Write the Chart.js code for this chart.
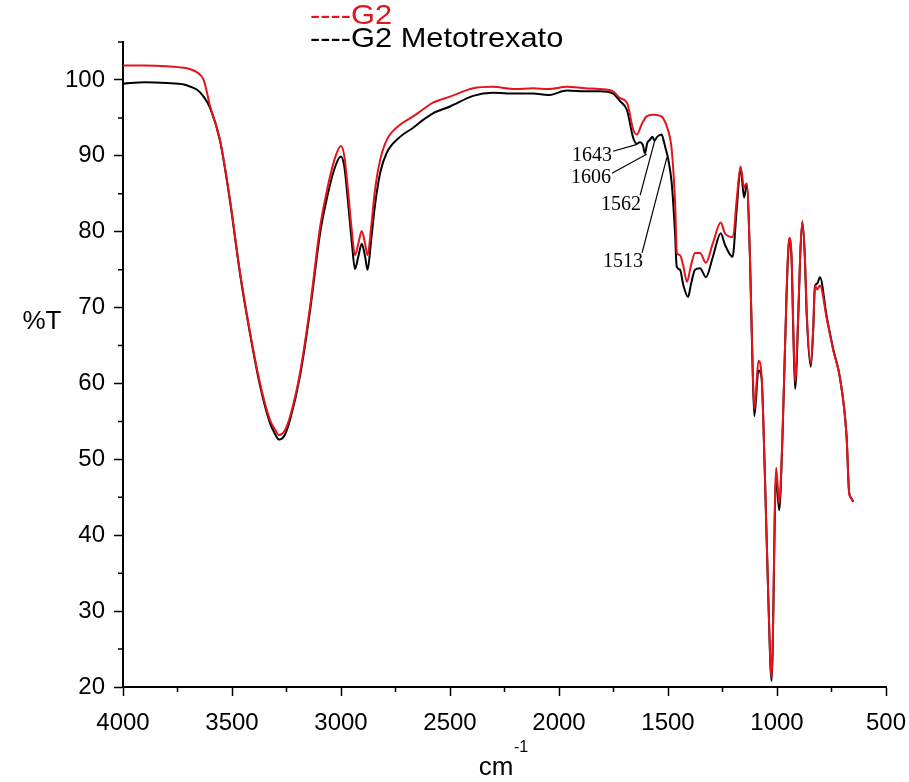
<!DOCTYPE html>
<html>
<head>
<meta charset="utf-8">
<script src="https://cdn.jsdelivr.net/npm/chart.js@4.4.1/dist/chart.umd.min.js"></script>
<style>
  html, body { margin: 0; padding: 0; background: #fff; }
  canvas { display: block; }
</style>
</head>
<body>
<canvas id="chart" width="909" height="782"></canvas>
<script>
// G2 spectrum (red)
var g2Wavenumber = [4000, 3900, 3800, 3720, 3690, 3660, 3630, 3600, 3555, 3509, 3463, 3417, 3372, 3326, 3300, 3284, 3260, 3234, 3188, 3142, 3096, 3064, 3030, 3001, 2985, 2968, 2950, 2936, 2920, 2905, 2890, 2878, 2862, 2844, 2820, 2790, 2729, 2669, 2620, 2578, 2500, 2394, 2303, 2200, 2119, 2050, 1963, 1880, 1812, 1752, 1720, 1688, 1660, 1643, 1620, 1598, 1569, 1540, 1523, 1500, 1483, 1468, 1459, 1445, 1430, 1413, 1395, 1376, 1353, 1326, 1294, 1258, 1239, 1202, 1185, 1167, 1151, 1139, 1124, 1112, 1104, 1085, 1071, 1056, 1040, 1025, 1004, 990, 975, 956, 944, 933, 925, 917, 902, 894, 884, 872, 864, 845, 834, 826, 815, 803, 772, 742, 711, 681, 669, 660, 650];
var g2Transmittance = [101.9, 101.9, 101.8, 101.6, 101.4, 101.0, 100.0, 96.5, 92.1, 84.2, 74.6, 66.7, 60.1, 55.2, 53.8, 53.2, 53.7, 55.6, 61.4, 70.1, 80.6, 85.5, 89.5, 91.3, 90.0, 85.5, 80.0, 76.9, 78.5, 80.1, 78.5, 76.9, 80.5, 85.5, 89.5, 92.1, 94.1, 95.2, 96.2, 97.0, 97.8, 98.9, 99.1, 98.8, 98.9, 98.8, 99.1, 98.9, 98.8, 98.5, 97.6, 97.0, 93.5, 92.8, 94.2, 95.2, 95.4, 95.3, 95.0, 93.4, 90.8, 84.2, 77.2, 76.9, 75.5, 73.4, 75.5, 77.2, 77.2, 75.9, 78.5, 81.2, 79.8, 79.3, 84.2, 88.6, 85.8, 86.4, 76.7, 62.6, 56.6, 63.0, 61.1, 48.5, 32.0, 21.3, 48.9, 44.2, 53.1, 72.0, 79.2, 76.7, 67.2, 60.2, 69.6, 76.7, 81.4, 76.7, 69.6, 62.6, 67.2, 72.9, 72.4, 72.9, 68.6, 64.4, 60.7, 53.1, 45.6, 44.9, 44.4];

// G2 Metotrexato spectrum (black)
var mtxWavenumber = [4000, 3900, 3800, 3720, 3690, 3660, 3630, 3600, 3555, 3509, 3463, 3417, 3372, 3326, 3300, 3284, 3260, 3234, 3188, 3142, 3096, 3064, 3030, 3001, 2985, 2968, 2950, 2936, 2920, 2905, 2890, 2878, 2862, 2844, 2820, 2790, 2729, 2669, 2620, 2578, 2500, 2394, 2303, 2200, 2119, 2050, 1963, 1880, 1812, 1752, 1720, 1688, 1660, 1643, 1630, 1615, 1606, 1595, 1583, 1571, 1562, 1550, 1529, 1520, 1513, 1500, 1483, 1468, 1460, 1445, 1430, 1408, 1395, 1376, 1353, 1326, 1294, 1258, 1239, 1204, 1185, 1167, 1151, 1139, 1124, 1112, 1104, 1085, 1071, 1056, 1040, 1025, 1004, 990, 975, 956, 944, 933, 925, 917, 902, 894, 884, 872, 864, 845, 834, 826, 815, 803, 772, 742, 711, 681, 669, 660, 650];
var mtxTransmittance = [99.5, 99.7, 99.6, 99.4, 99.1, 98.7, 97.8, 96.3, 92.0, 84.0, 74.4, 66.5, 59.8, 54.8, 53.2, 52.6, 53.1, 55.2, 61.0, 69.6, 79.8, 84.5, 88.3, 89.9, 88.6, 84.0, 78.5, 75.1, 76.8, 78.4, 76.8, 75.0, 78.8, 83.5, 87.8, 90.4, 92.5, 93.7, 94.8, 95.6, 96.5, 97.9, 98.3, 98.2, 98.2, 98.0, 98.6, 98.5, 98.5, 98.2, 97.2, 96.0, 92.4, 91.6, 91.8, 91.4, 90.3, 91.7, 92.1, 92.5, 92.0, 92.5, 92.8, 92.0, 91.2, 89.7, 86.4, 80.0, 75.4, 75.0, 73.0, 71.4, 73.0, 75.0, 75.2, 74.0, 76.7, 79.8, 78.3, 76.7, 82.9, 88.4, 84.5, 86.2, 76.5, 62.0, 55.7, 61.7, 60.8, 48.3, 31.8, 20.8, 47.8, 43.3, 52.8, 71.8, 78.8, 76.2, 66.5, 59.3, 69.2, 76.4, 81.2, 76.4, 69.2, 62.2, 67.0, 72.8, 73.2, 74.0, 68.8, 64.5, 60.7, 53.1, 45.6, 44.9, 44.4];

// peak labels on the black curve: text, peak position, label position (data units)
var peakLabels = ['1643', '1606', '1562', '1513'];
var peakX = [1642, 1598, 1560, 1505];
var peakY = [91.5, 90.2, 92.1, 89.8];
var labelX = [1752, 1757, 1628, 1619];
var labelY = [90.6, 87.7, 84.8, 77.2];

var xTicksMinor = [3750, 3250, 2750, 2250, 1750, 1250, 750];
var yTicksMinor = [25, 35, 45, 55, 65, 75, 85, 95, 105];

function toPoints(xs, ys) {
    var pts = [];
    for (var i = 0; i < xs.length; i++) {
        pts.push({x: xs[i], y: ys[i]});
    }
    return pts;
}

var extras = {
    id: 'extras',
    afterDraw: function(chart) {
        var ctx = chart.ctx;
        var xs = chart.scales.x;
        var ys = chart.scales.y;
        var area = chart.chartArea;
        ctx.save();

        // minor ticks
        ctx.strokeStyle = '#000';
        ctx.lineWidth = 1.5;
        ctx.beginPath();
        xTicksMinor.forEach(function(v) {
            var px = xs.getPixelForValue(v);
            ctx.moveTo(px, area.bottom);
            ctx.lineTo(px, area.bottom + 5);
        });
        yTicksMinor.forEach(function(v) {
            var py = ys.getPixelForValue(v);
            ctx.moveTo(area.left, py);
            ctx.lineTo(area.left - 5, py);
        });
        ctx.stroke();

        // peak labels
        ctx.lineWidth = 1.2;
        ctx.font = '20px "Liberation Serif", "Times New Roman", serif';
        ctx.fillStyle = '#000';
        ctx.textBaseline = 'middle';
        for (var i = 0; i < peakLabels.length; i++) {
            var x0 = xs.getPixelForValue(labelX[i]);
            var y0 = ys.getPixelForValue(labelY[i]);
            var x1 = xs.getPixelForValue(peakX[i]);
            var y1 = ys.getPixelForValue(peakY[i]);
            ctx.beginPath();
            ctx.moveTo(x0, y0);
            ctx.lineTo(x1, y1);
            ctx.stroke();
            if (i < 2) {
                ctx.textAlign = 'right';
                ctx.fillText(peakLabels[i], x0 - 1, y0 + 4);
            } else {
                ctx.textAlign = 'center';
                ctx.fillText(peakLabels[i], x0 - 19, y0 + 9);
            }
        }

        // legend
        ctx.font = '28px "Liberation Sans", Arial, sans-serif';
        ctx.textAlign = 'left';
        chart.data.datasets.forEach(function(ds, k) {
            ctx.save();
            ctx.translate(310, 16 + k * 23);
            ctx.scale(1.1, 1);
            ctx.fillStyle = ds.borderColor;
            ctx.fillText('----' + ds.label, 0, 0);
            ctx.restore();
        });

        // axis titles
        ctx.fillStyle = '#000';
        ctx.font = '26px "Liberation Sans", Arial, sans-serif';
        ctx.textAlign = 'center';
        ctx.fillText('%T', 42, 322);
        ctx.fillText('cm', 496, 768);
        ctx.font = '16px "Liberation Sans", Arial, sans-serif';
        ctx.textAlign = 'left';
        ctx.fillText('-1', 514, 748);
        ctx.restore();
    }
};

var tickFont = {family: '"Liberation Sans", Arial, sans-serif', size: 24};

var ctx = document.getElementById('chart').getContext('2d');
var chart = new Chart(ctx, {
    type: 'line',
    data: {
        datasets: [
            {
                label: 'G2',
                data: toPoints(g2Wavenumber, g2Transmittance),
                borderColor: '#e3141b',
                borderWidth: 2,
                pointRadius: 0,
                cubicInterpolationMode: 'monotone',
                fill: false
            },
            {
                label: 'G2 Metotrexato',
                data: toPoints(mtxWavenumber, mtxTransmittance),
                borderColor: '#000000',
                borderWidth: 2,
                pointRadius: 0,
                cubicInterpolationMode: 'monotone',
                fill: false
            }
        ]
    },
    options: {
        responsive: false,
        devicePixelRatio: 1,
        animation: false,
        layout: {
            padding: {top: 42, right: 23, left: 0, bottom: 0}
        },
        plugins: {
            legend: {display: false},
            tooltip: {enabled: false}
        },
        scales: {
            x: {
                type: 'linear',
                reverse: true,
                min: 500,
                max: 4000,
                afterFit: function(s) {
                    s.height = 95;
                    s.paddingLeft = 0;
                    s.paddingRight = 0;
                },
                border: {display: true, color: '#000', width: 2},
                grid: {drawOnChartArea: false, tickLength: 9, tickColor: '#000', tickWidth: 1.5},
                ticks: {
                    stepSize: 500,
                    includeBounds: false,
                    maxRotation: 0,
                    padding: 13,
                    color: '#000',
                    font: tickFont,
                    callback: function(v) { return String(v); }
                }
            },
            y: {
                min: 20,
                max: 105,
                afterFit: function(s) {
                    s.width = 123;
                    s.paddingTop = 0;
                    s.paddingBottom = 0;
                },
                border: {display: true, color: '#000', width: 2},
                grid: {drawOnChartArea: false, tickLength: 9, tickColor: '#000', tickWidth: 1.5},
                ticks: {
                    stepSize: 10,
                    includeBounds: false,
                    padding: 9,
                    color: '#000',
                    font: tickFont,
                    callback: function(v) { return String(v); }
                }
            }
        }
    },
    plugins: [extras]
});
</script>
</body>
</html>
